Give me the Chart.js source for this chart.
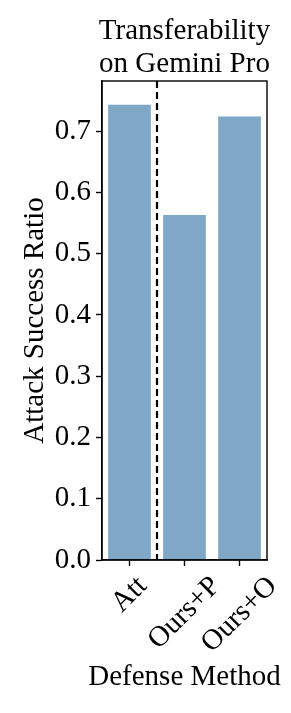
<!DOCTYPE html>
<html>
<head>
<meta charset="utf-8">
<script src="https://cdn.jsdelivr.net/npm/chart.js@4.4.1/dist/chart.umd.min.js"></script>
<style>
  html, body { margin: 0; padding: 0; background: #fff; }
  #wrap { width: 291px; height: 713px; position: relative; }
</style>
</head>
<body>
<div id="wrap"><canvas id="chart"></canvas></div>
<script>
/* Transferability on Gemini Pro - single bar panel */

const CATEGORIES    = ['Att', 'Ours+P', 'Ours+O'];
const SUCCESS_RATIO = [0.745, 0.565, 0.726];
const Y_TICKS       = [0.0, 0.1, 0.2, 0.3, 0.4, 0.5, 0.6, 0.7];
const Y_MAX         = 0.782;
const TITLE_LINES   = ['Transferability', 'on Gemini Pro'];
const X_TITLE       = 'Defense Method';
const Y_TITLE       = 'Attack Success Ratio';
const DIVIDER_AT    = 0.5;   // dashed line between Att and the defenses

const FONT_FAMILY = '"Liberation Serif", "Times New Roman", serif';
const FONT_SIZE   = 29;
const BAR_COLOR   = 'rgb(127,167,198)';

// frame, dashed divider, titles and rotated x tick labels
const extrasPlugin = {
  id: 'extras',
  afterDatasetsDraw(chart) {
    const { ctx, chartArea: a, scales: { x } } = chart;
    ctx.save();
    const x0 = x.getPixelForValue(Math.floor(DIVIDER_AT));
    const x1 = x.getPixelForValue(Math.ceil(DIVIDER_AT));
    const xd = x0 + (x1 - x0) * (DIVIDER_AT - Math.floor(DIVIDER_AT));
    ctx.strokeStyle = '#000';
    ctx.lineWidth = 2.2;
    ctx.setLineDash([7, 4]);
    ctx.beginPath();
    ctx.moveTo(xd, a.top);
    ctx.lineTo(xd, a.bottom);
    ctx.stroke();
    ctx.setLineDash([]);
    ctx.lineWidth = 1.4;
    ctx.strokeRect(a.left, a.top, a.right - a.left, a.bottom - a.top);
    ctx.restore();
  },
  afterDraw(chart) {
    const { ctx, chartArea: a, scales: { x } } = chart;
    const cx = (a.left + a.right) / 2;
    ctx.save();
    ctx.font = `${FONT_SIZE}px ${FONT_FAMILY}`;
    ctx.fillStyle = '#000';
    ctx.textAlign = 'center';
    ctx.textBaseline = 'alphabetic';
    // title, two lines
    TITLE_LINES.forEach((line, i) => ctx.fillText(line, cx, 39 + i * 33));
    // x axis title
    ctx.fillText(X_TITLE, cx, 685);
    // rotated category labels, bbox centred under each tick
    ctx.textBaseline = 'middle';
    const top = a.bottom + 12;
    CATEGORIES.forEach((lab, i) => {
      const w  = ctx.measureText(lab).width;
      const bh = (w + FONT_SIZE * 0.95) * Math.SQRT1_2;
      const px = x.getPixelForValue(i);
      ctx.save();
      ctx.translate(px, top + bh / 2);
      ctx.rotate(-Math.PI / 4);
      ctx.fillText(lab, 0, 0);
      ctx.restore();
    });
    ctx.restore();
  }
};

new Chart(document.getElementById('chart'), {
  type: 'bar',
  data: {
    labels: CATEGORIES,
    datasets: [{
      data: SUCCESS_RATIO,
      backgroundColor: BAR_COLOR,
      borderColor: '#fff',
      borderWidth: 1.2,
      borderSkipped: 'start',
      barPercentage: 0.82,
      categoryPercentage: 1.0
    }]
  },
  options: {
    responsive: true,
    maintainAspectRatio: false,
    animation: false,
    devicePixelRatio: 1,
    layout: { padding: { left: 0, right: 24, top: 81, bottom: 0 } },
    plugins: {
      legend: { display: false },
      tooltip: { enabled: false },
      title: { display: false }
    },
    scales: {
      x: {
        type: 'category',
        offset: true,
        grid: { display: true, drawOnChartArea: false, drawTicks: true, tickLength: 6, tickWidth: 1.4, color: '#000', offset: false },
        border: { display: true, color: '#000', width: 1.4 },
        ticks: { display: false },
        afterFit(scale) { scale.height = 153; }
      },
      y: {
        min: 0,
        max: Y_MAX,
        afterBuildTicks(scale) { scale.ticks = Y_TICKS.map(v => ({ value: v })); },
        grid: { display: true, drawOnChartArea: false, drawTicks: true, tickLength: 6, tickWidth: 1.4, color: '#000' },
        border: { display: true, color: '#000', width: 1.4 },
        ticks: {
          color: '#000',
          padding: 5,
          font: { family: FONT_FAMILY, size: FONT_SIZE },
          callback: v => Number(v).toFixed(1)
        },
        title: {
          display: true,
          text: Y_TITLE,
          color: '#000',
          font: { family: FONT_FAMILY, size: FONT_SIZE, lineHeight: 1.14 },
          padding: { top: 19, bottom: 0 }
        },
        afterFit(scale) { scale.width = 102; }
      }
    }
  },
  plugins: [extrasPlugin]
});
</script>
</body>
</html>
